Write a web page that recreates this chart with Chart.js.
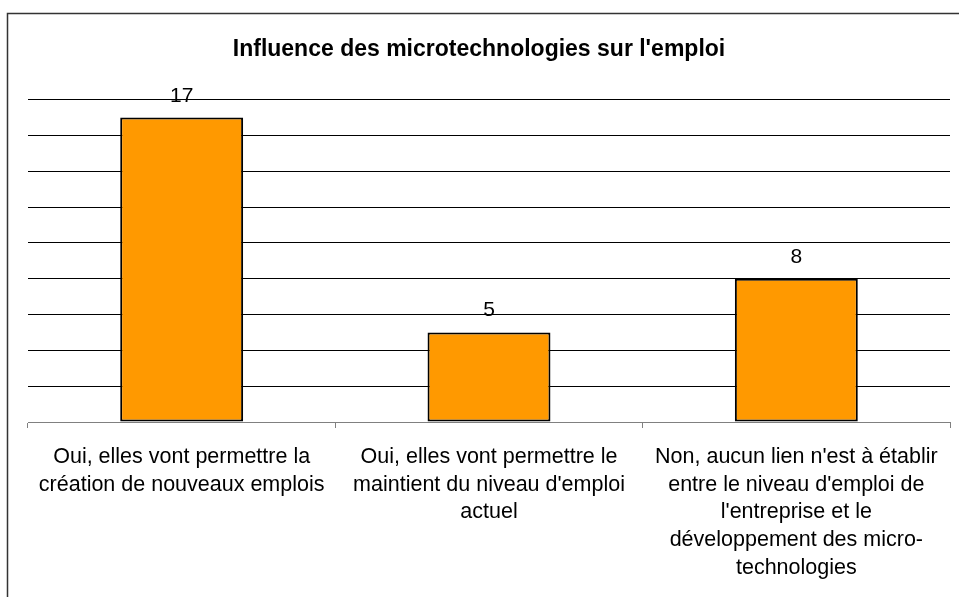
<!DOCTYPE html>
<html>
<head>
<meta charset="utf-8">
<script src="https://cdn.jsdelivr.net/npm/chart.js@4.4.0/dist/chart.umd.min.js"></script>
<style>
  html, body { margin: 0; padding: 0; background: #fff; }
  #wrap { width: 959px; height: 597px; }
</style>
</head>
<body>
<div id="wrap"><canvas id="emploiChart" width="959" height="597"></canvas></div>
<script>
// Chart data
var categories = [
  ['Oui, elles vont permettre la', 'création de nouveaux emplois'],
  ['Oui, elles vont permettre le', "maintient du niveau d'emploi", 'actuel'],
  ["Non, aucun lien n'est à établir", "entre le niveau d'emploi de", "l'entreprise et le", 'développement des micro-', 'technologies']
];
var counts = [17, 5, 8];
var titleText = "Influence des microtechnologies sur l'emploi";
var yMin = 0;
var yMax = 18;
var yStep = 2;

var fontFamily = '"Liberation Sans", Arial, Helvetica, sans-serif';

// frame around the whole chart, title nudged a bit to the left
var framePlugin = {
  id: 'frame',
  afterLayout: function(chart) {
    if (chart.titleBlock) {
      chart.titleBlock.left -= 20;
    }
  },
  beforeDraw: function(chart) {
    var ctx = chart.ctx;
    ctx.save();
    ctx.fillStyle = '#fff';
    ctx.fillRect(0, 0, chart.width, chart.height);
    ctx.strokeStyle = '#333';
    ctx.lineWidth = 1.5;
    ctx.strokeRect(7.5, 13.5, chart.width + 20, chart.height + 20);
    ctx.restore();
  }
};

// value labels above the bars
var valueLabels = {
  id: 'valueLabels',
  afterDatasetsDraw: function(chart) {
    var ctx = chart.ctx;
    var meta = chart.getDatasetMeta(0);
    ctx.save();
    ctx.font = '21px ' + fontFamily;
    ctx.fillStyle = '#000';
    ctx.textAlign = 'center';
    ctx.textBaseline = 'alphabetic';
    meta.data.forEach(function(bar, i) {
      ctx.fillText(String(counts[i]), bar.x, bar.y - 16);
    });
    ctx.restore();
  }
};

var ctx = document.getElementById('emploiChart').getContext('2d');
new Chart(ctx, {
  type: 'bar',
  data: {
    labels: categories,
    datasets: [
      {
        data: counts,
        backgroundColor: '#FF9900',
        borderColor: '#000',
        borderWidth: 2,
        borderSkipped: false,
        barPercentage: 0.4,
        categoryPercentage: 1
      }
    ]
  },
  options: {
    responsive: false,
    animation: false,
    layout: {
      padding: { left: 28, right: 9, top: 0, bottom: 0 }
    },
    plugins: {
      legend: { display: false },
      tooltip: { enabled: false },
      title: {
        display: true,
        text: titleText,
        color: '#000',
        font: { family: fontFamily, size: 23, weight: 'bold', lineHeight: 1.2 },
        padding: { top: 36, bottom: 36 }
      }
    },
    scales: {
      x: {
        grid: {
          display: true,
          drawOnChartArea: false,
          drawTicks: true,
          tickLength: 6,
          tickColor: '#808080',
          offset: true
        },
        border: { display: true, color: '#808080', width: 1 },
        ticks: {
          color: '#000',
          font: { family: fontFamily, size: 21.5, lineHeight: 1.29 },
          padding: 15,
          maxRotation: 0,
          autoSkip: false
        },
        afterFit: function(scale) {
          scale.height = 175;
        }
      },
      y: {
        display: true,
        min: yMin,
        max: yMax,
        ticks: { stepSize: yStep, display: false },
        border: { display: false },
        grid: {
          drawTicks: false,
          color: function(c) {
            return c.tick && c.tick.value === 0 ? '#808080' : '#000';
          },
          lineWidth: 1
        },
        afterFit: function(scale) {
          scale.width = 0;
        }
      }
    }
  },
  plugins: [framePlugin, valueLabels]
});
</script>
</body>
</html>
